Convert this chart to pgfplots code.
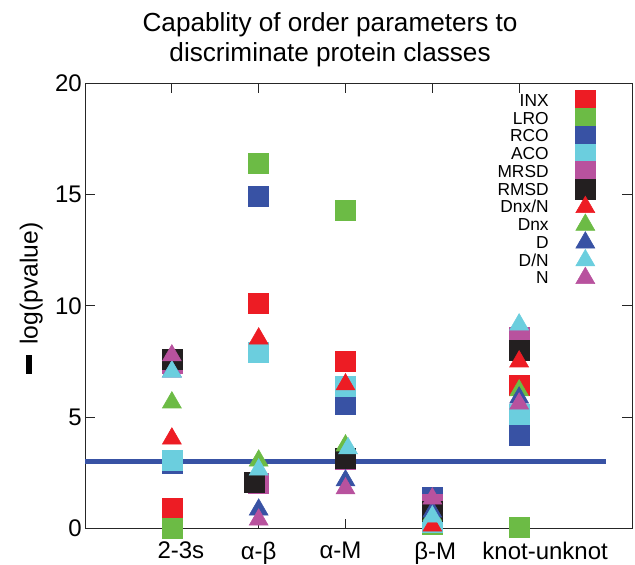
\documentclass[border=0pt]{standalone}
\usepackage{fontspec}
\setmainfont{Liberation Sans}
\usepackage{pgfplots}
\pgfplotsset{compat=1.18}

\definecolor{cINX}{RGB}{237,28,36}
\definecolor{cLRO}{RGB}{108,187,69}
\definecolor{cRCO}{RGB}{56,82,164}
\definecolor{cACO}{RGB}{107,206,222}
\definecolor{cMRSD}{RGB}{184,82,158}
\definecolor{cRMSD}{RGB}{35,31,32}

\pgfplotsset{
  sq/.style={only marks, mark=square*, mark size=7.5pt, color=#1,
    mark options={draw=none, fill=#1}},
  tr/.style={only marks, mark=triangle*, mark size=8.2pt, color=#1,
    mark options={draw=none, fill=#1}},
}

\begin{document}
\begin{tikzpicture}
% page frame, in pt (1 px of the reference = 0.75pt)
\path[use as bounding box] (-63.75pt,-27pt) rectangle (412.25pt,396.25pt);
\begin{axis}[
  scale only axis,
  width=410pt, height=334pt,
  xmin=0, xmax=6.3,
  ymin=0, ymax=20,
  clip=false,
  xtick={1,2,3,4,5},
  xticklabels={\hspace*{13.5pt}2-3s, α-β, α-M\hspace*{7.5pt}, \hspace*{4.5pt}β-M, \hspace*{39pt}knot-unknot},
  ytick={0,5,10,15,20},
  tick align=inside,
  major tick length=7.5pt,
  axis line style={black!85, line width=0.75pt},
  tick style={black!85, line width=0.75pt},
  /pgf/number format/assume math mode=true,
  ticklabel style={font=\fontsize{18}{20}\selectfont},
  yticklabel style={inner sep=0pt, xshift=-2.25pt},
  xticklabel style={yshift=-6.5pt},
  title={Capablity of order parameters to\\discriminate protein classes},
  title style={at={(axis description cs:0.448,1)}, anchor=south, align=center,
    inner sep=0pt, yshift=6pt, font=\fontsize{19.6}{22.5}\selectfont},
  ylabel={\rule[4.5pt]{14pt}{4pt}\hspace{8pt}log(pvalue)},
  ylabel style={at={(axis description cs:-0.077,0.517)}, anchor=south,
    inner sep=0pt, font=\fontsize{18.5}{20}\selectfont},
  legend image code/.code={%
    \path[draw=none, fill=none] (0cm,-1pt) rectangle (0.6cm,1pt);
    \begin{pgfinterruptboundingbox}
    \draw[#1, only marks] plot coordinates {(0.3cm,0cm)};
    \end{pgfinterruptboundingbox}
  },
  legend plot pos=right,
  legend cell align=right,
  legend style={at={(0.936,0.981)}, anchor=north east, draw=none, fill=none,
    inner sep=0pt, row sep=0pt, column sep=19pt,
    nodes={inner sep=0pt, text height=11pt, text depth=2.3pt},
    font=\fontsize{13}{13}\selectfont},
]
% squares
\addplot[sq=cINX] coordinates {(1,0.9) (2,10.1) (3,7.5) (4,0.3) (5,6.45)};
\addlegendentry{INX}
\addplot[sq=cLRO] coordinates {(1,0.0) (2,16.4) (3,14.3) (4,0.2) (5,0.05)};
\addlegendentry{LRO}
\addplot[sq=cRCO] coordinates {(1,2.92) (2,14.9) (3,5.6) (4,1.4) (5,4.2)};
\addlegendentry{RCO}
\addplot[sq=cACO] coordinates {(1,3.05) (2,7.9) (3,6.4) (4,0.27) (5,5.15)};
\addlegendentry{ACO}
\addplot[sq=cMRSD] coordinates {(1,7.4) (2,2.05) (3,3.1) (4,1.1) (5,8.6)};
\addlegendentry{MRSD}
\addplot[sq=cRMSD] coordinates {(1,7.6) (1.954,2.1) (3,3.14) (4,0.8) (5,8.0)};
\addlegendentry{RMSD}
% triangles
\addplot[tr=cINX] coordinates {(1,4.04) (2,8.53) (3,6.47) (4,0.13) (5,7.5)};
\addlegendentry{Dnx/N}
\addplot[tr=cLRO] coordinates {(1,5.66) (2,3.05) (3,3.73) (4,0.6) (5,6.2)};
\addlegendentry{Dnx}
\addplot[tr=cRCO] coordinates {(1,7.05) (2,0.85) (3,2.16) (4,0.76) (5,5.88)};
\addlegendentry{D}
\addplot[tr=cACO] coordinates {(1,7.05) (2,2.65) (3.03,3.6) (4,0.54) (5,9.16)};
\addlegendentry{D/N}
\addplot[tr=cMRSD] coordinates {(1,7.77) (2,0.40) (3,1.8) (4,1.35) (5,5.61)};
\addlegendentry{N}
% significance threshold
\addplot[cRCO, line width=3.5pt, forget plot] coordinates {(0,3) (6,3)};
\end{axis}
\end{tikzpicture}
\end{document}
